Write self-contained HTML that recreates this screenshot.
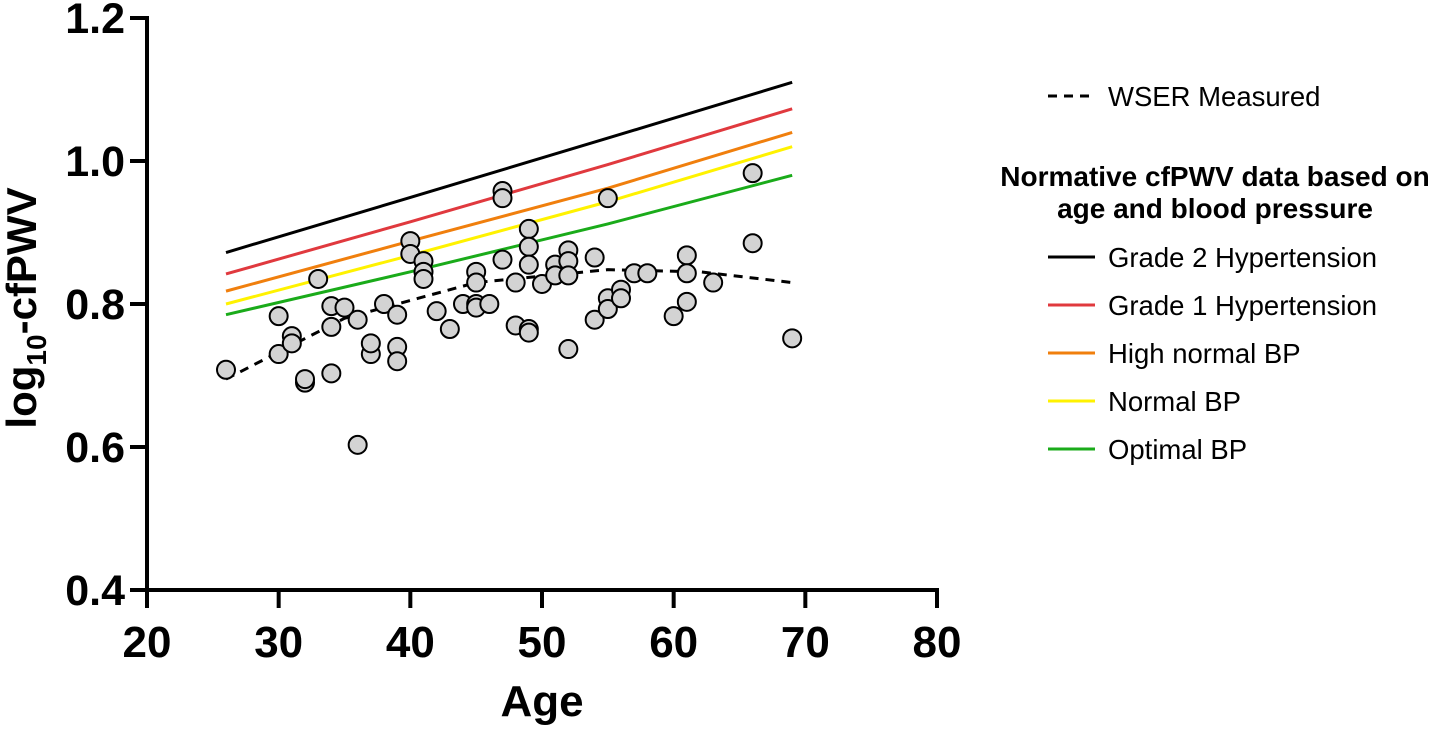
<!DOCTYPE html>
<html><head><meta charset="utf-8"><style>
body{margin:0;background:#fff;}
svg text{font-family:"Liberation Sans",Arial,sans-serif;}
</style></head><body>
<svg id="chart" width="1456" height="728" viewBox="0 0 1456 728">
<g id="axes"></g>
<g id="lines"></g>
<g id="points"></g>
<g id="legend">
<line x1="1048" y1="96" x2="1095" y2="96" stroke="#000" stroke-width="3" stroke-dasharray="9,7"/>
<text x="1108" y="106" font-size="27.5">WSER Measured</text>
<text x="1215" y="186" font-size="28" font-weight="bold" text-anchor="middle">Normative cfPWV data based on</text>
<text x="1215" y="218" font-size="28" font-weight="bold" text-anchor="middle">age and blood pressure</text>
</g>
</svg>
<script>
const xTicks=[20,30,40,50,60,70,80];
const yTicks=[0.4,0.6,0.8,1.0,1.2];
const yTickLabels=["0.4","0.6","0.8","1.0","1.2"];
const lineAges=[26,40,55,69];
const grade2=[0.872,0.949,1.032,1.110];
const grade1=[0.842,0.915,0.995,1.073];
const highNormal=[0.818,0.888,0.962,1.040];
const normalBP=[0.800,0.868,0.943,1.020];
const optimalBP=[0.785,0.845,0.912,0.980];
const seriesNames=["Grade 2 Hypertension","Grade 1 Hypertension","High normal BP","Normal BP","Optimal BP"];
const seriesColors=["#000000","#e0393e","#f07f0d","#fff200","#1aab1a"];
const fitAges=[26,35,45,55,62,69];
const fitValues=[0.695,0.780,0.830,0.848,0.845,0.830];
const ages=[26,30,30,31,31,32,32,33,34,34,34,35,36,36,37,37,38,39,39,39,40,40,41,41,41,42,43,44,45,45,45,45,46,47,47,47,48,48,49,49,49,49,49,50,51,51,52,52,52,52,54,54,55,55,55,56,56,57,58,60,61,61,61,63,66,66,69];
const pwv=[0.708,0.783,0.730,0.755,0.745,0.690,0.695,0.835,0.797,0.768,0.703,0.795,0.603,0.778,0.730,0.745,0.800,0.785,0.740,0.720,0.888,0.870,0.860,0.845,0.835,0.790,0.765,0.800,0.845,0.830,0.800,0.795,0.800,0.958,0.948,0.862,0.830,0.770,0.905,0.880,0.855,0.765,0.760,0.828,0.855,0.840,0.875,0.860,0.840,0.737,0.865,0.778,0.948,0.808,0.793,0.820,0.808,0.843,0.843,0.783,0.868,0.843,0.803,0.830,0.983,0.885,0.752];

const NS="http://www.w3.org/2000/svg";
const X=v=>147+(v-20)*790/60;
const Y=v=>590-(v-0.4)*715;
function mk(tag,parent,attrs){const e=document.createElementNS(NS,tag);for(const k in attrs)e.setAttribute(k,attrs[k]);parent.appendChild(e);return e;}
const axes=document.getElementById('axes');
let e=mk('line',axes,{x1:147,y1:16,x2:147,y2:592,stroke:'#000','stroke-width':4});


e=mk('line',axes,{x1:145,y1:590,x2:939,y2:590,stroke:'#000','stroke-width':4});


xTicks.forEach(t=>{
 let l=mk('line',axes,{x1:X(t),y1:590,x2:X(t),y2:608,stroke:'#000','stroke-width':4});
 
 
 let tx=mk('text',axes,{x:X(t),y:657,'font-size':44,'font-weight':'bold','text-anchor':'middle'});
 tx.textContent=t;
 
 
});
yTicks.forEach((t,i)=>{
 let l=mk('line',axes,{x1:130,y1:Y(t),x2:147,y2:Y(t),stroke:'#000','stroke-width':4});
 
 
 let tx=mk('text',axes,{x:125,y:Y(t)+15,'font-size':43,'font-weight':'bold','text-anchor':'end'});
 tx.textContent=yTickLabels[i];
 
 
});
let xt=mk('text',axes,{x:542,y:716,'font-size':44,'font-weight':'bold','text-anchor':'middle'});
xt.textContent='Age';


let yt=mk('text',axes,{x:0,y:0,'font-size':42,'font-weight':'bold','text-anchor':'middle',transform:'translate(36,308) rotate(-90)'});
yt.innerHTML='log<tspan font-size="28" dy="10">10</tspan><tspan dy="-10">-cfPWV</tspan>';



const lines=document.getElementById('lines');
const legend=document.getElementById('legend');
[grade2,grade1,highNormal,normalBP,optimalBP].forEach((s,i)=>{
 const d=lineAges.map((a,j)=>(j?'L':'M')+X(a)+','+Y(s[j])).join(' ');
 let p=mk('path',lines,{d:d,fill:'none',stroke:seriesColors[i],'stroke-width':3});
 
 
 const ly=257+48*i;
 let sw=mk('line',legend,{x1:1048,y1:ly,x2:1095,y2:ly,stroke:seriesColors[i],'stroke-width':3});
 
 
 let lt=mk('text',legend,{x:1108,y:ly+10,'font-size':27.5});
 lt.textContent=seriesNames[i];
 
 
});
let fit=mk('path',lines,{d:fitAges.map((a,j)=>(j?'L':'M')+X(a)+','+Y(fitValues[j])).join(' '),fill:'none',stroke:'#000','stroke-width':3,'stroke-dasharray':'9,7'});


const pts=document.getElementById('points');
ages.forEach((a,i)=>{
 let c=mk('circle',pts,{cx:X(a),cy:Y(pwv[i]),r:9,fill:'#d3d3d3',stroke:'#000','stroke-width':2});
 
 
});
</script>
</body></html>
